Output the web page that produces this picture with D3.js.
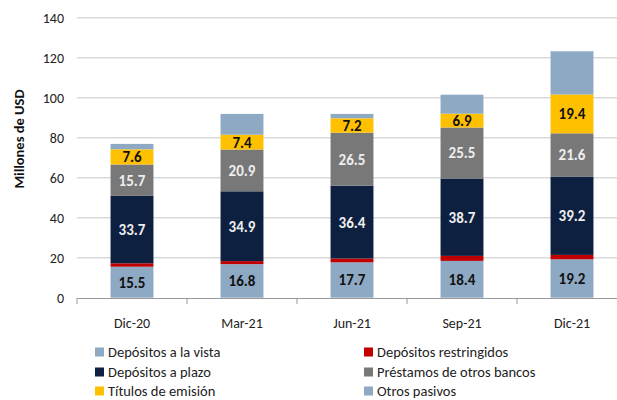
<!DOCTYPE html>
<html><head><meta charset="utf-8">
<script src="https://cdn.jsdelivr.net/npm/d3@7"></script>
<style>body{margin:0;background:#fff}svg{display:block}</style>
</head><body><svg id="c" width="617" height="400"></svg>
<script>
const categories = ["Dic-20","Mar-21","Jun-21","Sep-21","Dic-21"];
const seriesNames = ["Depósitos a la vista","Depósitos restringidos","Depósitos a plazo","Préstamos de otros bancos","Títulos de emisión","Otros pasivos"];
const vista = [15.5,16.8,17.7,18.4,19.2];
const restringidos = [1.7,1.5,1.9,2.5,2.2];
const plazo = [33.7,34.9,36.4,38.7,39.2];
const prestamos = [15.7,20.9,26.5,25.5,21.6];
const titulos = [7.6,7.4,7.2,6.9,19.4];
const otros = [2.7,10.4,2.2,9.5,21.6];
const yTicks = [0,20,40,60,80,100,120,140];
const colors = ["#8EA9C3","#C00000","#0E203F","#787878","#FFC000","#8EA9C3"];
const labelShown = [true,false,true,true,true,false];
const labelColors = ["#111","#111","#eee","#eee","#111","#111"];

const allSeries = [vista,restringidos,plazo,prestamos,titulos,otros];
const rows = categories.map((c,i)=>{const o={cat:c}; seriesNames.forEach((s,j)=>o[s]=allSeries[j][i]); return o;});
const stack = d3.stack().keys(seriesNames)(rows);

const svg = d3.select("#c");
const x = d3.scaleBand().domain(categories).range([77,627]).paddingInner(0.61).paddingOuter(0.305);
const xb = d3.scaleBand().domain(categories).range([77,627]);
const y = d3.scaleLinear().domain([0,140]).range([297.7,17.7]);
const font = "Carlito, Calibri, Lato, sans-serif";

// gridlines
svg.append("g").selectAll("line").data(yTicks.slice(1)).join("line")
  .attr("x1",77).attr("x2",617).attr("y1",d=>y(d)).attr("y2",d=>y(d))
  .attr("stroke","#d9d9d9").attr("stroke-width",1.5);

// y axis labels
const ya = svg.append("g").attr("transform","translate(64,0)")
  .call(d3.axisLeft(y).tickValues(yTicks).tickSize(0).tickPadding(0));
ya.select(".domain").remove();
ya.selectAll("text").attr("font-family",font).attr("font-size",14).attr("fill","#222").attr("dy","0.35em");

// bars
const g = svg.append("g");
stack.forEach((s,j)=>{
  g.append("g").selectAll("rect").data(s).join("rect")
    .attr("x",d=>x(d.data.cat)).attr("width",x.bandwidth())
    .attr("y",d=>y(d[1])).attr("height",d=>y(d[0])-y(d[1]))
    .attr("fill",colors[j]);
});
stack.forEach((s,j)=>{
  if(!labelShown[j]) return;
  g.append("g").selectAll("text").data(s).join("text")
    .attr("x",d=>x(d.data.cat)+x.bandwidth()/2)
    .attr("y",d=>(y(d[0])+y(d[1]))/2).attr("dy","0.36em")
    .attr("text-anchor","middle").attr("font-family",font).attr("font-weight","bold")
    .attr("font-size",15).attr("fill",labelColors[j])
    .text(d=>(d[1]-d[0]).toFixed(1));
});

// x axis
const xa = svg.append("g").attr("transform","translate(0,298)")
  .call(d3.axisBottom(xb).tickSize(0).tickPadding(20));
xa.select(".domain").attr("stroke","#999").attr("stroke-width",1);
xa.selectAll("text").attr("font-family",font).attr("font-size",14).attr("fill","#222");
svg.append("g").selectAll("line").data(d3.range(categories.length+1)).join("line")
  .attr("x1",i=>77+i*xb.step()).attr("x2",i=>77+i*xb.step())
  .attr("y1",298).attr("y2",304).attr("stroke","#999");

// y title
svg.append("text").attr("transform","translate(19,139) rotate(-90)")
  .attr("text-anchor","middle").attr("dy","0.35em").attr("font-family",font).attr("font-weight","bold")
  .attr("font-size",14.5).attr("fill","#111").text("Millones de USD");

// legend
const legPos = [[95,352],[364,352],[95,372],[364,372],[95,391],[364,391]];
const legend = svg.append("g").selectAll("g").data(seriesNames).join("g")
  .attr("transform",(d,i)=>`translate(${legPos[i][0]},${legPos[i][1]})`);
legend.append("rect").attr("x",0).attr("y",-4.5).attr("width",9).attr("height",9).attr("fill",(d,i)=>colors[i]);
legend.append("text").attr("x",13).attr("y",0).attr("dy","0.34em")
  .attr("font-family",font).attr("font-size",14.5).attr("fill","#222").text(d=>d);
</script></body></html>
